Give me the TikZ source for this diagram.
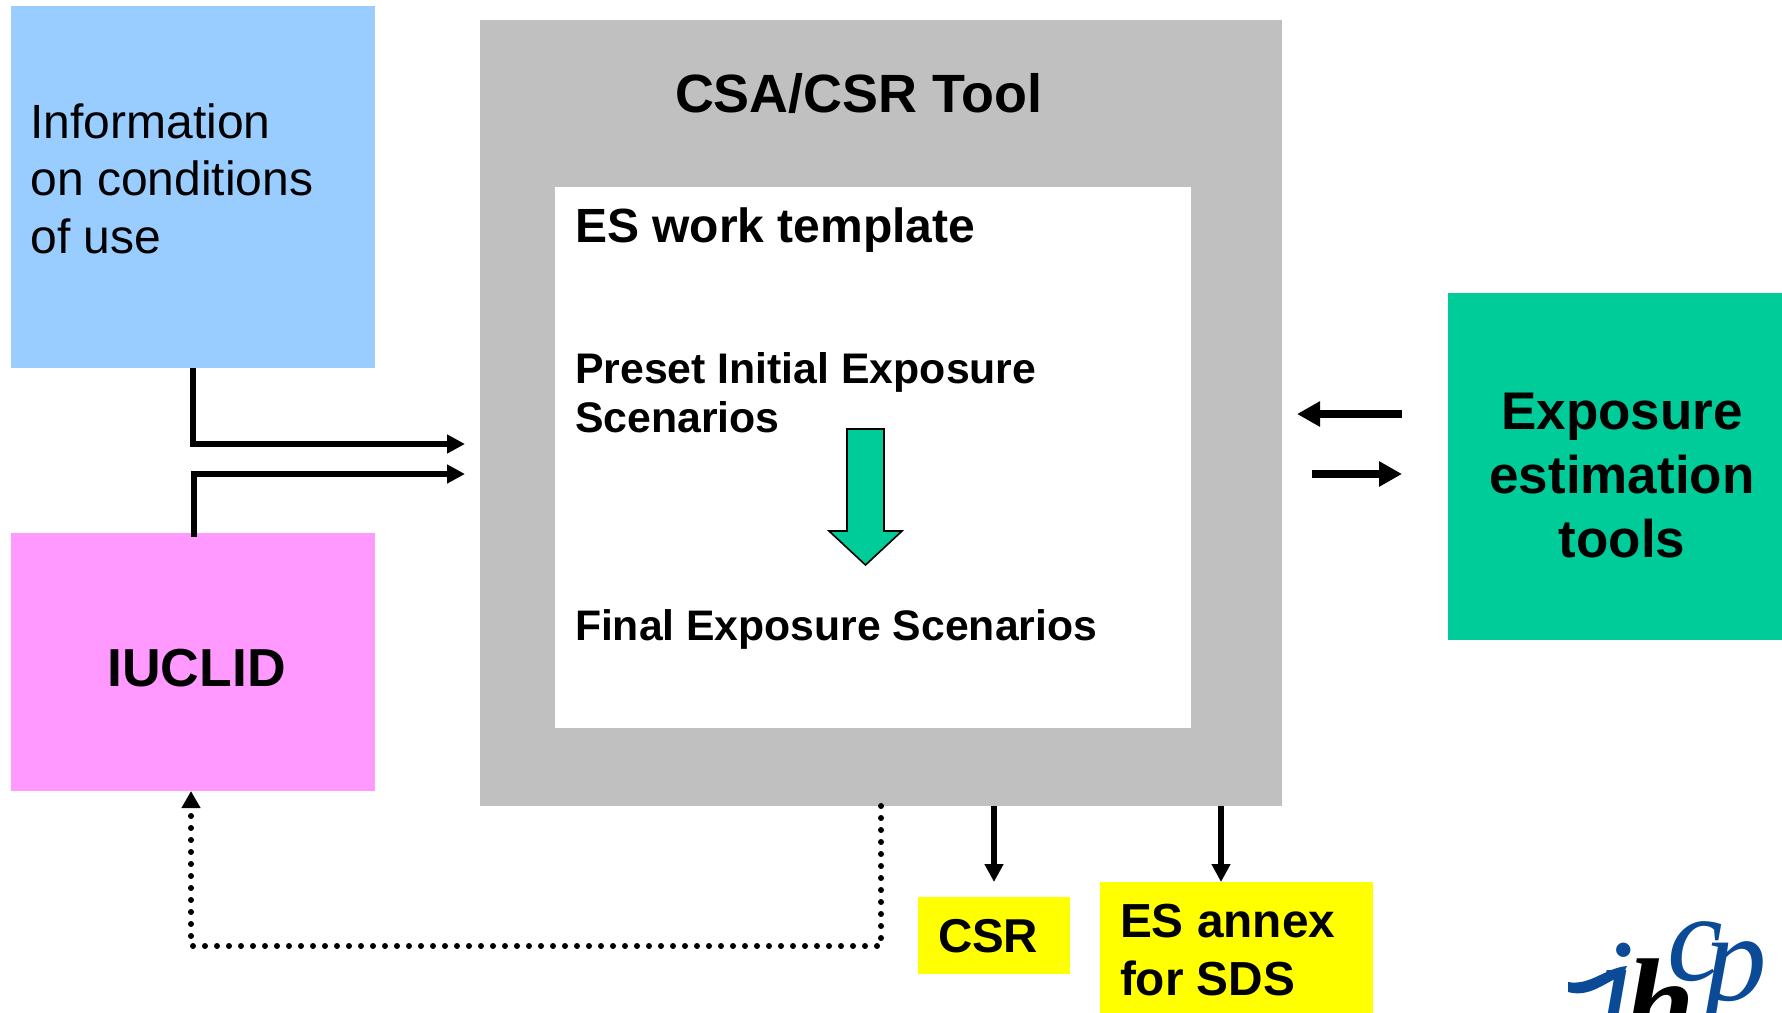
\documentclass[tikz,border=0pt]{standalone}
\usepackage{fontspec}
\setmainfont{Liberation Sans}
\newfontfamily\logofont{Liberation Serif}
\usetikzlibrary{arrows.meta,calc}
\definecolor{cblue}{HTML}{99CCFF}
\definecolor{cpink}{HTML}{FF99FF}
\definecolor{cgray}{HTML}{C0C0C0}
\definecolor{cgreen}{HTML}{00CC99}
\definecolor{cyell}{HTML}{FFFF00}
\definecolor{clogo}{HTML}{0A4A96}
\newcommand{\fs}[2]{\fontsize{#1}{#2}\selectfont}
\tikzset{
  x=1pt,y=-1pt,
  boxnode/.style={draw=none,inner sep=0pt,outer sep=0pt,anchor=north west},
  lbl/.style={inner sep=0pt,outer sep=0pt,anchor=base west,align=left},
  lblc/.style={inner sep=0pt,outer sep=0pt,anchor=base},
  link/.style={line width=5.5pt,-{Triangle[width=18pt,length=18pt]},miter limit=10},
  heavy/.style={line width=8pt,-{Triangle[width=24pt,length=23pt]}},
  dotlink/.style={line width=6pt,line cap=round,dash pattern=on 0pt off 12pt,-{Triangle[width=18pt,length=17pt]}},
}
\begin{document}
\begin{tikzpicture}
\useasboundingbox (0,0) rectangle (1782,1012);
\fill[white] (0,0) rectangle (1782,1012);
% boxes
\node[boxnode,fill=cblue,minimum width=364pt,minimum height=362pt] (info) at (11,6) {};
\node[boxnode,fill=cpink,minimum width=364pt,minimum height=258pt] (iuclid) at (11,533) {};
\node[boxnode,fill=cgray,minimum width=802pt,minimum height=786pt] (tool) at (480,20) {};
\node[boxnode,fill=white,minimum width=636pt,minimum height=541pt] (work) at (555,187) {};
\node[boxnode,fill=cgreen,minimum width=334pt,minimum height=347pt] (est) at (1448,293) {};
\node[boxnode,fill=cyell,minimum width=152pt,minimum height=77pt] (csr) at (918,897) {};
\node[boxnode,fill=cyell,minimum width=273pt,minimum height=141pt] (annex) at (1100,882) {};
% labels
\node[lbl,font=\fs{48}{57.5}] (tinfo1) at (30.5,138) {Information};
\node[lbl,font=\fs{48}{57.5}] (tinfo2) at (30.5,195) {on conditions};
\node[lbl,font=\fs{48}{57.5}] (tinfo3) at (30.5,253) {of use};
\node[lbl,font=\fs{53.9}{61}\bfseries] (ttool) at (675,112.5) {CSA/CSR Tool};
\node[lbl,font=\fs{48}{54}\bfseries] (twork) at (575,242) {ES work template};
\node[lbl,font=\fs{42.8}{49}\bfseries] (tpre1) at (575,383) {Preset Initial Exposure};
\node[lbl,font=\fs{42.8}{49}\bfseries] (tpre2) at (575,432) {Scenarios};
\node[lbl,font=\fs{42.7}{49}\bfseries] (tfin) at (575,640) {Final Exposure Scenarios};
\node[lblc,font=\fs{53.5}{61}\bfseries] (tiu) at (196.5,686) {IUCLID};
\node[lblc,font=\fs{53}{65}\bfseries] (test1) at (1622,429) {Exposure};
\node[lblc,font=\fs{53}{65}\bfseries] (test2) at (1622,493) {estimation};
\node[lblc,font=\fs{53}{65}\bfseries] (test3) at (1622,557) {tools};
\node[lbl,font=\fs{47.5}{54}\bfseries] (tcsr) at (938,952.5) {CSR};
\node[lbl,font=\fs{47.8}{58}\bfseries] (tann1) at (1120,937) {ES annex};
\node[lbl,font=\fs{47.8}{58}\bfseries] (tann2) at (1120,995) {for SDS};
% green process arrow
\draw[fill=cgreen,line width=1.6pt,miter limit=10] (847,429) -- (884,429) -- (884,531) -- (902,531) -- (865.5,565) -- (829,531) -- (847,531) -- cycle;
% free ends
\coordinate (toolIn1) at (465,444);
\coordinate (toolIn2) at (465,474);
\coordinate (csrTip) at (994,882);
\coordinate (annTip) at (1221,882);
\coordinate (estOutL) at (1402,414);
\coordinate (estOutR) at (1297,414);
\coordinate (estInL) at (1312,474);
\coordinate (estInR) at (1402,474);
\coordinate (dotBack) at (191,946);
% connectors
\draw[link,line width=6pt] (info.south) |- (toolIn1);
\draw[link,line width=6pt] ($(iuclid.north)+(1,4)$) |- (toolIn2);
\draw[link] (tool.south -| csrTip) -- (csrTip);
\draw[link] (tool.south -| annTip) -- (annTip);
\draw[heavy] (estOutL) -- (estOutR);
\draw[heavy] (estInL) -- (estInR);
\draw[dotlink] (tool.south) |- (dotBack) -- (dotBack |- iuclid.south);
% logo
\begin{scope}
\clip (1568,900) rectangle (1782,1012);
\node[lbl,text=clogo,font=\fs{135}{135}\logofont\itshape] (logoi) at (1597,1032) {i};
\node[lbl,text=black,font=\fs{125}{125}\logofont\bfseries\itshape] (logoh) at (1625,1045) {h};
\node[lbl,text=clogo,font=\fs{125}{125}\logofont\itshape] (logoc) at (1667,980) {c};
\node[lbl,text=clogo,font=\fs{125}{125}\logofont\itshape] (logop) at (1704,1000) {p};
\fill[clogo] (1568,982) .. controls (1590,986) and (1605,968) .. (1627,966) -- (1622,976) .. controls (1605,982) and (1590,998) .. (1568,992) -- cycle;
\end{scope}
\end{tikzpicture}
\end{document}
